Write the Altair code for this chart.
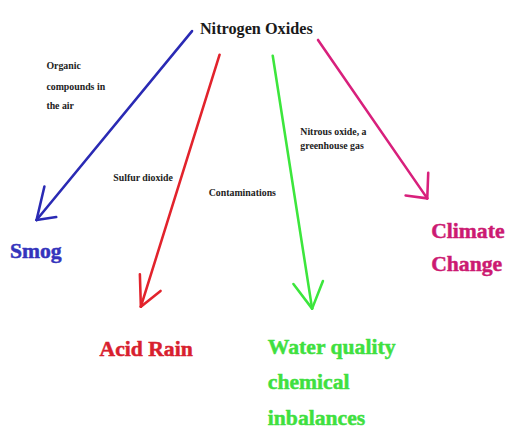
import altair as alt
import pandas as pd

# Arrow shafts (start -> tip), in picture coordinates
shaft_x1 = [195, 223, 277, 323]
shaft_y1 = [28, 52, 53, 37]
shaft_x2 = [37, 143, 317, 434]
shaft_y2 = [220, 308, 310, 198]
# Arrow-head arm ends
arm_a_x = [45, 142, 298, 412]
arm_a_y = [186, 275, 285, 195]
arm_b_x = [57, 163, 328, 435]
arm_b_y = [217, 292, 282, 172]
arrow_colors = ["#2a2ab4", "#e2232c", "#3ce63c", "#d8207c"]

# Big labels (one row per line)
big_text = ["Smog", "Acid Rain", "Climate", "Change",
            "Water quality", "chemical", "inbalances"]
big_x = [10, 101, 438, 438, 272, 272, 272]
big_y = [259, 358, 238, 272, 356, 392, 428]
big_color = ["#3434bc", "#d8202e", "#cc1a72", "#cc1a72",
             "#3fe03f", "#3fe03f", "#3fe03f"]

# Small labels
small_text = ["Organic", "compounds in", "the air", "Sulfur dioxide",
              "Contaminations", "Nitrous oxide, a", "greenhouse gas"]
small_x = [47, 47, 47, 115, 212, 305, 305]
small_y = [67, 88, 107, 180, 196, 134, 148]

title_text = ["Nitrogen Oxides"]
title_x = [203]
title_y = [31]

SERIF = "'Liberation Serif', 'Times New Roman', 'DejaVu Serif', serif"

rows = []
for i in range(4):
    c = arrow_colors[i]
    rows.append(dict(x=shaft_x1[i], y=shaft_y1[i], x2=shaft_x2[i], y2=shaft_y2[i], c=c))
    rows.append(dict(x=arm_a_x[i], y=arm_a_y[i], x2=shaft_x2[i], y2=shaft_y2[i], c=c))
    rows.append(dict(x=arm_b_x[i], y=arm_b_y[i], x2=shaft_x2[i], y2=shaft_y2[i], c=c))
seg = pd.DataFrame(rows)

xs = alt.Scale(domain=[8, 505], nice=False, zero=False)
ys = alt.Scale(domain=[437, 8], nice=False, zero=False)

segments = alt.Chart(seg).mark_rule(strokeWidth=2.6, strokeCap="round").encode(
    x=alt.X("x:Q", scale=xs, axis=None),
    y=alt.Y("y:Q", scale=ys, axis=None),
    x2="x2:Q", y2="y2:Q",
    color=alt.Color("c:N", scale=None),
)

bigdf = pd.DataFrame(dict(t=big_text, x=big_x, y=big_y, c=big_color))
big = alt.Chart(bigdf).mark_text(
    font=SERIF, fontSize=22, fontWeight="bold", align="left", baseline="alphabetic",
    strokeWidth=0.5
).encode(
    x=alt.X("x:Q", scale=xs, axis=None),
    y=alt.Y("y:Q", scale=ys, axis=None),
    text="t:N",
    color=alt.Color("c:N", scale=None),
    stroke=alt.Stroke("c:N", scale=None),
)

small = alt.Chart(pd.DataFrame(dict(t=small_text, x=small_x, y=small_y))).mark_text(
    font=SERIF, fontSize=10, fontWeight="bold", align="left",
    baseline="alphabetic", color="#222222"
).encode(
    x=alt.X("x:Q", scale=xs, axis=None),
    y=alt.Y("y:Q", scale=ys, axis=None),
    text="t:N",
)

title = alt.Chart(pd.DataFrame(dict(t=title_text, x=title_x, y=title_y))).mark_text(
    font=SERIF, fontSize=16.5, fontWeight="bold", align="left", baseline="alphabetic",
    color="#1a1a1a"
).encode(
    x=alt.X("x:Q", scale=xs, axis=None),
    y=alt.Y("y:Q", scale=ys, axis=None),
    text="t:N",
)

chart = alt.layer(segments, big, small, title).properties(
    width=497, height=429, padding=0, background="white"
).configure_view(stroke=None)

chart.save("out.html", embed_options={"renderer": "svg", "actions": False})
